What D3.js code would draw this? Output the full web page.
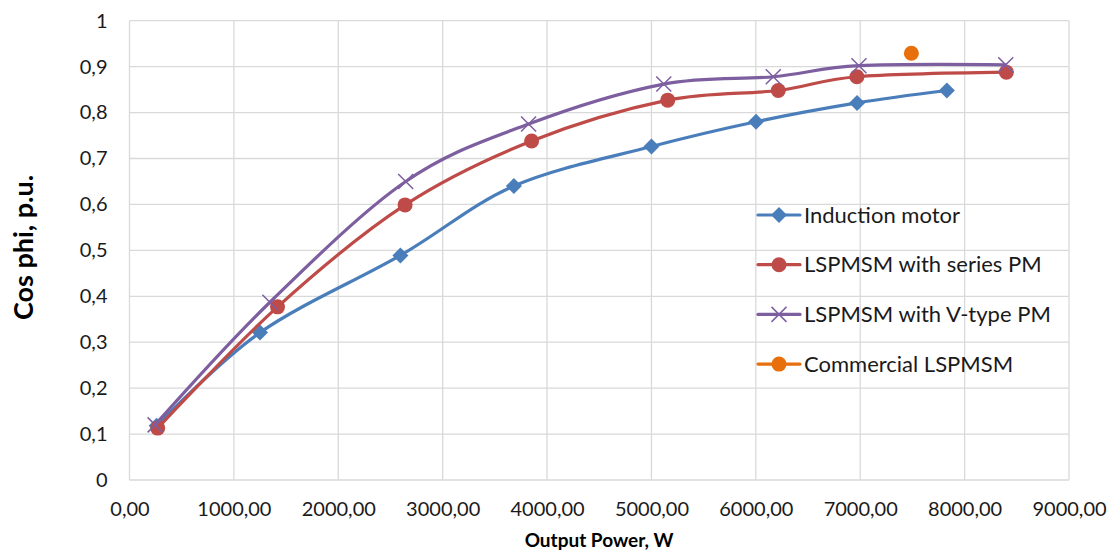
<!DOCTYPE html>
<html><head><meta charset="utf-8">
<script src="https://cdn.jsdelivr.net/npm/d3@7"></script>
<style>body{margin:0;background:#fff}svg{display:block}text{font-family:Lato,"Open Sans",sans-serif}</style>
</head><body><svg id="c" width="1113" height="552"></svg>
<script>
const seriesNames = ["Induction motor","LSPMSM with series PM","LSPMSM with V-type PM","Commercial LSPMSM"];
const inductionX = [260,1250,2595,3682,5000,6002,6970,7830];
const inductionY = [0.118,0.321,0.489,0.640,0.726,0.780,0.821,0.848];
const seriesPmX = [270,1418,2640,3852,5156,6215,6968,8400];
const seriesPmY = [0.113,0.377,0.599,0.738,0.827,0.848,0.878,0.888];
const vTypeX = [245,1345,2646,3823,5118,6167,6988,8394];
const vTypeY = [0.120,0.387,0.650,0.775,0.862,0.878,0.902,0.904];
const commercialX = [7490];
const commercialY = [0.929];
const xTicks = [0,1000,2000,3000,4000,5000,6000,7000,8000,9000];
const yTicks = [0,0.1,0.2,0.3,0.4,0.5,0.6,0.7,0.8,0.9,1];
const colors = ["#4A7EBB","#BE4B48","#7D5FA0","#E8700C"];

const svg = d3.select("#c");
const L=129.5,R=1069,T=20.7,B=480;
const x = d3.scaleLinear().domain([0,9000]).range([L,R]);
const y = d3.scaleLinear().domain([0,1]).range([B,T]);
const grid = "#d9d9d9";

svg.append("g").selectAll("line").data(yTicks).join("line")
  .attr("x1",L).attr("x2",R).attr("y1",d=>y(d)).attr("y2",d=>y(d))
  .attr("stroke",grid).attr("stroke-width",1.3);
svg.append("g").selectAll("line").data(xTicks).join("line")
  .attr("y1",T).attr("y2",B).attr("x1",d=>x(d)).attr("x2",d=>x(d))
  .attr("stroke",grid).attr("stroke-width",1.3);

const fmtY = d => d===0?"0":(d===1?"1":d3.format(".1f")(d).replace(".",","));
const fmtX = d => d3.format(".2f")(d).replace(".",",");
const yAxis = d3.axisLeft(y).tickValues(yTicks).tickFormat(fmtY).tickSize(0).tickPadding(22);
const gy = svg.append("g").attr("transform",`translate(${L},0)`).call(yAxis);
gy.select(".domain").remove();
gy.selectAll("text").attr("font-size",20).attr("fill","#1a1a1a").attr("font-family","Lato");
const xAxis = d3.axisBottom(x).tickValues(xTicks).tickFormat(fmtX).tickSize(0).tickPadding(22);
const gx = svg.append("g").attr("transform",`translate(0,${B})`).call(xAxis);
gx.select(".domain").remove();
gx.selectAll("text").attr("font-size",20).attr("fill","#1a1a1a").attr("font-family","Lato");

svg.append("text").attr("transform",`translate(33,247.5) rotate(-90)`)
  .attr("text-anchor","middle").attr("font-size",27).attr("font-weight","bold").attr("fill","#000").text("Cos phi, p.u.");
svg.append("text").attr("x",599).attr("y",547).attr("text-anchor","middle")
  .attr("font-size",19).attr("font-weight","bold").attr("fill","#000").text("Output Power, W");

const data = [
  d3.zip(inductionX,inductionY),
  d3.zip(seriesPmX,seriesPmY),
  d3.zip(vTypeX,vTypeY),
  d3.zip(commercialX,commercialY)
];
const line = d3.line().x(d=>x(d[0])).y(d=>y(d[1])).curve(d3.curveCatmullRom.alpha(0));

function marker(g,i,cx,cy){
  if(i===0){
    g.append("path").attr("d",`M${cx},${cy-8}L${cx+8},${cy}L${cx},${cy+8}L${cx-8},${cy}Z`).attr("fill",colors[0]);
  } else if(i===1){
    g.append("circle").attr("cx",cx).attr("cy",cy).attr("r",7.5).attr("fill",colors[1]);
  } else if(i===2){
    const s=7.5;
    g.append("path").attr("d",`M${cx-s},${cy-s}L${cx+s},${cy+s}M${cx-s},${cy+s}L${cx+s},${cy-s}`)
      .attr("stroke",colors[2]).attr("stroke-width",1.5).attr("fill","none");
  } else {
    g.append("circle").attr("cx",cx).attr("cy",cy).attr("r",7.5).attr("fill",colors[3]);
  }
}

data.forEach((pts,i)=>{
  const g = svg.append("g");
  if(pts.length>1) g.append("path").attr("d",line(pts)).attr("fill","none").attr("stroke",colors[i]).attr("stroke-width",3.2).attr("stroke-linecap","round");
  pts.forEach(p=>marker(g,i,x(p[0]),y(p[1])));
});

const lg = svg.append("g");
seriesNames.forEach((n,i)=>{
  const ly = 215 + i*49.7;
  lg.append("line").attr("x1",758).attr("x2",800).attr("y1",ly).attr("y2",ly).attr("stroke",colors[i]).attr("stroke-width",3.2).attr("stroke-linecap","round");
  marker(lg,i,779,ly);
  lg.append("text").attr("x",804).attr("y",ly).attr("dy","0.35em").attr("font-size",22).attr("fill","#1a1a1a").text(n);
});
</script></body></html>
